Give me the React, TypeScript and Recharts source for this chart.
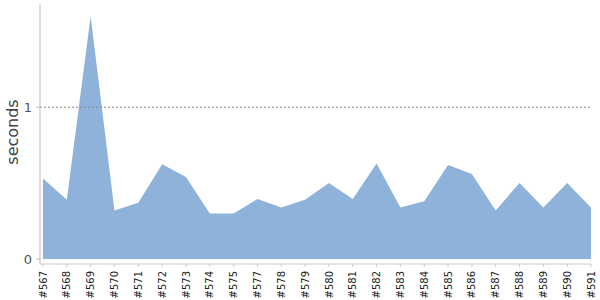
import { AreaChart, Area, XAxis, YAxis, ReferenceLine } from 'recharts'

// build ids (x axis) and run time in seconds (y axis)
const builds = [
  '#567', '#568', '#569', '#570', '#571', '#572', '#573', '#574', '#575', '#577', '#578', '#579',
  '#580', '#581', '#582', '#583', '#584', '#585', '#586', '#587', '#588', '#589', '#590', '#591',
]
const seconds = [
  0.53, 0.39, 1.6, 0.32, 0.37, 0.625, 0.54, 0.3, 0.3, 0.395, 0.34, 0.39,
  0.5, 0.395, 0.63, 0.34, 0.38, 0.62, 0.56, 0.32, 0.5, 0.34, 0.5, 0.34,
]
const yTicks = [0, 1]

const data = builds.map((b, i) => ({ build: b, value: seconds[i] }))

const FONT = '"DejaVu Sans", sans-serif'

function BuildTick(props: any) {
  const { x, y, payload } = props
  return (
    <g transform={`translate(${x},${y})`}>
      <text
        transform="rotate(-90)"
        x={-2}
        y={0}
        dy="0.36em"
        textAnchor="end"
        fontSize={10}
        fontFamily={FONT}
        fill="#222"
      >
        {payload.value}
      </text>
    </g>
  )
}

function SecondsLabel() {
  return (
    <text
      x={18}
      y={132}
      transform="rotate(-90 18 132)"
      textAnchor="middle"
      fontSize={16}
      fontFamily={FONT}
      fill="#444"
    >
      seconds
    </text>
  )
}

export default function App() {
  return (
    <div style={{ position: 'absolute', left: 0, top: 0, background: '#fff' }}>
      <AreaChart width={600} height={300} data={data} margin={{ top: 4, right: 9, left: 0, bottom: 0 }}>
        <XAxis
          dataKey="build"
          interval={0}
          padding={{ left: 3, right: 0 }}
          axisLine={{ stroke: '#ccc' }}
          tickLine={{ stroke: '#ccc' }}
          tickSize={3}
          tickMargin={2}
          height={36}
          tick={<BuildTick />}
        />
        <YAxis
          width={40}
          domain={[0, 1.68]}
          ticks={yTicks}
          padding={{ top: 0, bottom: 5 }}
          axisLine={{ stroke: '#bbb' }}
          tickLine={{ stroke: '#bbb' }}
          tickSize={4}
          tickMargin={4}
          tick={{ fontSize: 13, fontFamily: FONT, fill: '#555' }}
          label={<SecondsLabel />}
        />
        <ReferenceLine y={1} stroke="#888" strokeDasharray="2 2" />
        <Area
          type="linear"
          dataKey="value"
          fill="#8FB2DA"
          fillOpacity={1}
          stroke="none"
          isAnimationActive={false}
          dot={false}
          activeDot={false}
        />
      </AreaChart>
    </div>
  )
}
